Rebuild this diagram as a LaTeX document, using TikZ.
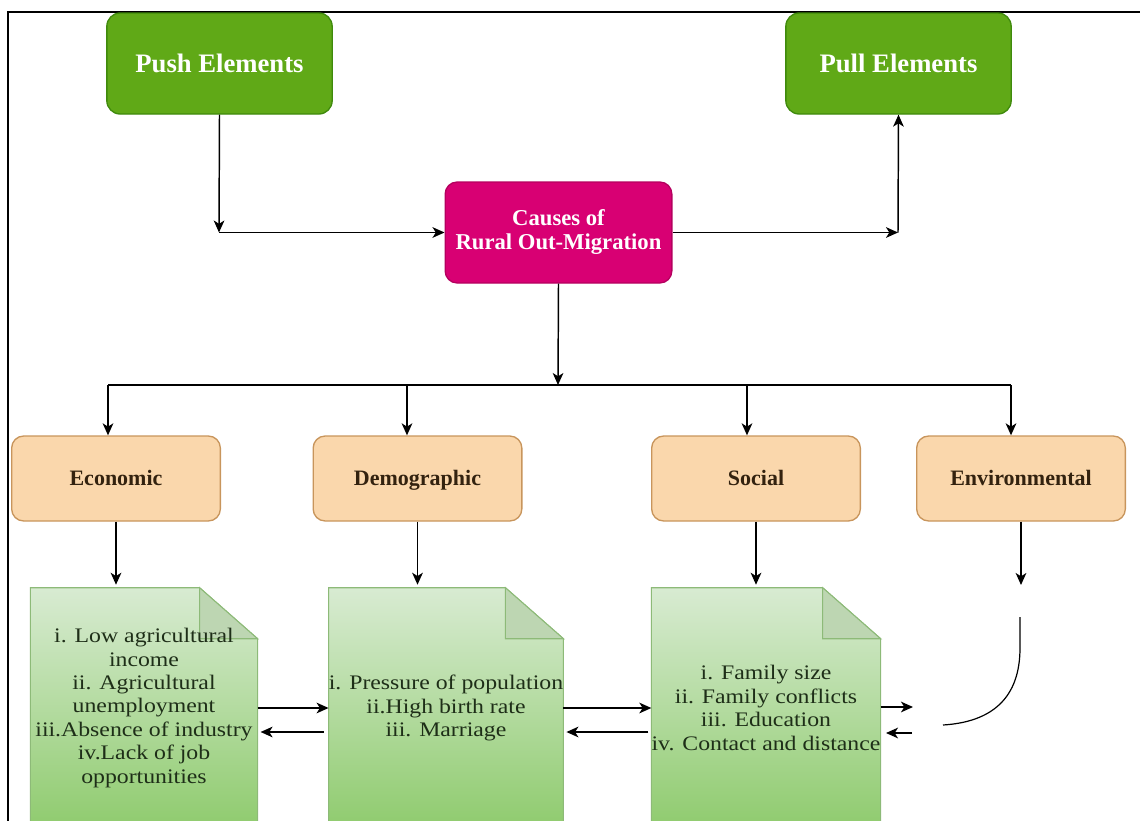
\documentclass[tikz,border=0pt]{standalone}
\usepackage{fontspec}
\setmainfont{Liberation Serif}
\newfontfamily\docfont{Liberation Serif}[FakeStretch=1.15]
\usetikzlibrary{arrows.meta,calc}

\definecolor{grnfill}{HTML}{60A917}
\definecolor{grnline}{HTML}{3F8A0C}
\definecolor{magfill}{HTML}{D80073}
\definecolor{magline}{HTML}{B5005F}
\definecolor{orgfill}{HTML}{FAD7AC}
\definecolor{orgline}{HTML}{C8955C}
\definecolor{orgtext}{HTML}{33220F}
\definecolor{doctop}{HTML}{D8EBD2}
\definecolor{docbot}{HTML}{8FCB6E}
\definecolor{docline}{HTML}{8DBA78}
\definecolor{docfold}{HTML}{BDD6B2}
\definecolor{doctext}{HTML}{1E2E18}

\pgfdeclarelayer{background}
\pgfsetlayers{background,main}

\tikzset{
  headbox/.style={draw=grnline, fill=grnfill, line width=1pt, rounded corners=10pt,
    minimum width=169pt, minimum height=75.75pt, text=white,
    font=\bfseries\fontsize{20}{22}\selectfont},
  causebox/.style={draw=magline, fill=magfill, line width=1pt, rounded corners=9pt,
    minimum width=170pt, minimum height=75.75pt, text=white, align=center,
    font=\bfseries\fontsize{17}{18}\selectfont},
  catbox/.style={draw=orgline, fill=orgfill, line width=1pt, rounded corners=9pt,
    minimum width=156.5pt, minimum height=63.75pt, text=orgtext,
    text height=10.9pt, text depth=0pt,
    font=\bfseries\fontsize{16.5}{18}\selectfont},
  notebox/.style={minimum width=170pt, minimum height=180pt, inner sep=0pt,
    align=center, text=doctext, font=\docfont\fontsize{15.5}{17.6}\selectfont},
  conn/.style={line width=1.1pt, -{Stealth[length=9pt,width=8pt,inset=2.5pt]}},
  plain/.style={line width=1.1pt},
}

% folded-corner note outline behind a notebox
\newcommand{\notepaper}[1]{%
  \begin{pgfonlayer}{background}
    \shade[top color=doctop, bottom color=docbot, draw=docline, line width=0.8pt]
      (#1.north west) -- ($(#1.north east)+(-58,0)$) -- ($(#1.north east)+(0,51)$)
      -- (#1.south east) -- (#1.south west) -- cycle;
    \filldraw[fill=docfold, draw=docline, line width=0.8pt]
      ($(#1.north east)+(-58,0)$) -- ($(#1.north east)+(-58,51)$)
      -- ($(#1.north east)+(0,51)$) -- cycle;
  \end{pgfonlayer}}

\begin{document}
\begin{tikzpicture}[x=0.75pt, y=-0.75pt]
\useasboundingbox (0,0) rectangle (1140,821);
\clip (0,0) rectangle (1140,821);

% outer frame
\draw[line width=1.8pt] (8,840) -- (8,12) -- (1150,12);

% top row
\node[headbox] (push) at (219.5,63.5) {Push Elements};
\node[headbox] (pull) at (898.5,63.5) {Pull Elements};
\node[causebox] (cs) at (558.5,232.5) {Causes of\\Rural Out-Migration};

\coordinate (pc) at (219,232.5);
\coordinate (qc) at (898,232.5);
\draw[conn] (push.south) -- (pc);
\draw[conn] (pc) -- (cs.west);
\draw[conn] (cs.east) -- (qc);
\draw[conn] (qc) -- (pull.south);

% categories
\node[catbox] (eco) at (116,478.5) {Economic};
\node[catbox] (dem) at (417.5,478.5) {Demographic};
\node[catbox] (soc) at (756,478.5) {Social};
\node[catbox] (env) at (1021,478.5) {Environmental};

\coordinate (tJ) at (558,385);
\coordinate (tE) at (108,385);
\coordinate (tD) at (407,385);
\coordinate (tS) at (747,385);
\coordinate (tV) at (1011,385);
\draw[conn] (cs.south) -- (tJ);
\draw[plain] (tE) -- (tV);
\draw[conn] (tE) -- (tE |- eco.north);
\draw[conn] (tD) -- (tD |- dem.north);
\draw[conn] (tS) -- (tS |- soc.north);
\draw[conn] (tV) -- (tV |- env.north);

% detail notes
\node[notebox] (d1) at (144,708) {i. Low agricultural\\income\\ii. Agricultural\\unemployment\\iii.Absence of industry\\iv.Lack of job\\opportunities};
\node[notebox] (d2) at (446,708) {i. Pressure of population\\ii.High birth rate\\iii. Marriage};
\node[notebox] (d3) at (766,708) {i. Family size\\ii. Family conflicts\\iii. Education\\iv. Contact and distance};
\notepaper{d1}
\notepaper{d2}
\notepaper{d3}

\draw[conn] (eco.south) -- ($(eco.south |- d1.north)+(0,-3)$);
\draw[conn] (dem.south) -- ($(dem.south |- d2.north)+(0,-3)$);
\draw[conn] (soc.south) -- ($(soc.south |- d3.north)+(0,-3)$);
\coordinate (vE) at (1021,585);
\draw[conn] (env.south) -- (vE);

% links between notes
\draw[conn] (d1.east) -- (d2.west);
\draw[conn] ($(d2.west)+(-5,24)$) -- ($(d1.east)+(3,24)$);
\draw[conn] (d2.east) -- (d3.west);
\draw[conn] ($(d3.west)+(-3,24)$) -- ($(d2.east)+(3,24)$);
\coordinate (r3) at (913,707);
\draw[conn] (d3.east |- r3) -- (r3);
\coordinate (l3a) at (912,733);
\coordinate (l3b) at (886,733);
\draw[conn] (l3a) -- (l3b);

% curved stroke below Environmental
\coordinate (cv1) at (1020,617);
\coordinate (cv2) at (1020,648);
\coordinate (cv3) at (943,725);
\draw[line width=0.9pt] (cv1) -- (cv2) .. controls (1020,698) and (992,722) .. (cv3);
\end{tikzpicture}
\end{document}
